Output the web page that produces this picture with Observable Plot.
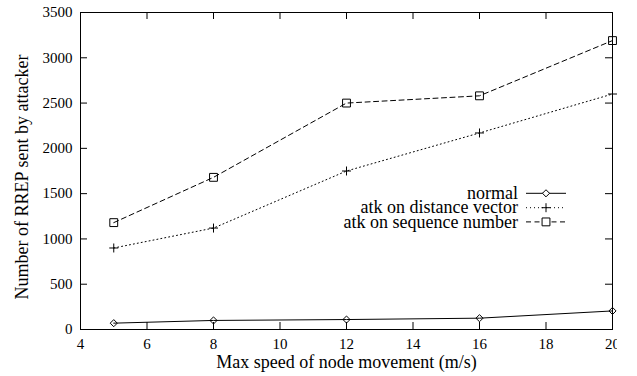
<!DOCTYPE html>
<html>
<head>
<meta charset="utf-8">
<script src="https://cdn.jsdelivr.net/npm/d3@7"></script>
<script src="https://cdn.jsdelivr.net/npm/@observablehq/plot@0.6"></script>
<style>
  html, body { margin: 0; padding: 0; background: white; }
  #chart { width: 637px; height: 376px; }
  #chart svg, #chart svg text { font-family: "Liberation Serif", "DejaVu Serif", serif !important; }
</style>
</head>
<body>
<div id="chart"></div>
<script>
const speeds = [5, 8, 12, 16, 20];
const normal = [70, 100, 110, 125, 205];
const distanceVector = [900, 1120, 1750, 2170, 2600];
const sequenceNumber = [1180, 1680, 2500, 2580, 3190];
const seriesNames = ["normal", "atk on distance vector", "atk on sequence number"];
const xTicks = [4, 6, 8, 10, 12, 14, 16, 18, 20];
const yTicks = [0, 500, 1000, 1500, 2000, 2500, 3000, 3500];
const xLabel = "Max speed of node movement (m/s)";
const yLabel = "Number of RREP sent by attacker";

const styles = [
  {dash: null, symbol: "diamond2", r: 3.2},
  {dash: "1,3", symbol: "plus", r: 3},
  {dash: "5,3.5", symbol: "square2", r: 5}
];
const values = [normal, distanceVector, sequenceNumber];
const data = [];
values.forEach((vals, i) => vals.forEach((v, j) => data.push({series: seriesNames[i], x: speeds[j], y: v, i})));

const font = "Liberation Serif";
const W = 617, H = 376, mT = 12, mB = 47, mL = 80, mR = 5;
const innerH = H - mT - mB, innerW = W - mL - mR;
const tick = 7;

const marks = [];
values.forEach((vals, i) => {
  const d = data.filter(e => e.i === i);
  marks.push(Plot.line(d, {x: "x", y: "y", stroke: "black", strokeWidth: 1, strokeDasharray: styles[i].dash}));
  marks.push(Plot.dot(d, {x: "x", y: "y", symbol: styles[i].symbol, r: styles[i].r, stroke: "black", fill: "none", strokeWidth: 1}));
});

const plot = Plot.plot({
  width: W, height: H,
  marginTop: mT, marginBottom: mB, marginLeft: mL, marginRight: mR,
  style: {fontFamily: font, background: "white"},
  x: {domain: [4, 20]},
  y: {domain: [0, 3500]},
  marks: [
    Plot.ruleX(xTicks, {x: d => d, insetTop: innerH - tick, stroke: "black"}),
    Plot.ruleX(xTicks, {x: d => d, insetBottom: innerH - tick, stroke: "black"}),
    Plot.ruleY(yTicks, {y: d => d, insetRight: innerW - tick, stroke: "black"}),
    Plot.ruleY(yTicks, {y: d => d, insetLeft: innerW - tick, stroke: "black"}),
    Plot.axisX({ticks: xTicks, tickSize: 0, tickPadding: 9, fontSize: 15, label: null, tickFormat: d => String(d)}),
    Plot.axisY({ticks: yTicks, tickSize: 0, tickPadding: 8, fontSize: 15, label: null, tickFormat: d => String(d)}),
    Plot.frame({stroke: "black"}),
    ...marks,
    Plot.text([xLabel], {frameAnchor: "bottom", text: d => d, dy: 33, fontSize: 18, lineAnchor: "middle", textAnchor: "middle"}),
    Plot.text([yLabel], {frameAnchor: "left", text: d => d, dx: -58, dy: 6, rotate: -90, fontSize: 18, lineAnchor: "middle", textAnchor: "middle"})
  ]
});

document.getElementById("chart").appendChild(plot);

// legend
const svg = d3.select(plot);
const lg = svg.append("g").attr("font-size", 18);
const rowY = [193.3, 207.7, 221.9];
const textRight = 518, lineX1 = 526, lineX2 = 566, markX = 546;
seriesNames.forEach((name, i) => {
  const y = rowY[i];
  lg.append("text").attr("x", textRight).attr("y", y).attr("dy", "0.32em")
    .attr("text-anchor", "end").attr("fill", "black").text(name);
  lg.append("line").attr("x1", lineX1).attr("x2", lineX2).attr("y1", y).attr("y2", y)
    .attr("stroke", "black").attr("stroke-width", 1)
    .attr("stroke-dasharray", styles[i].dash);
  const sym = {diamond2: d3.symbolDiamond2, plus: d3.symbolPlus, square2: d3.symbolSquare2}[styles[i].symbol];
  lg.append("path").attr("transform", `translate(${markX},${y})`)
    .attr("d", d3.symbol(sym, Math.PI * styles[i].r * styles[i].r)())
    .attr("fill", "white").attr("stroke", "black").attr("stroke-width", 1);
});
</script>
</body>
</html>
